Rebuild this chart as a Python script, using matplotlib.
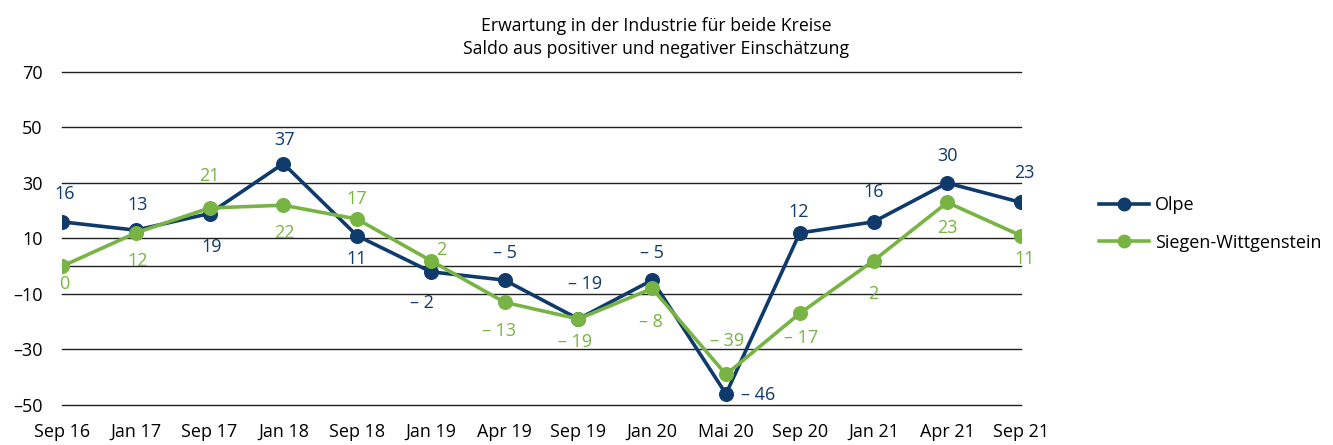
import matplotlib
matplotlib.use("Agg")
import matplotlib.pyplot as plt
from matplotlib.lines import Line2D

plt.rcParams['font.family'] = ['Open Sans', 'DejaVu Sans']

categories = ["Sep 16", "Jan 17", "Sep 17", "Jan 18", "Sep 18", "Jan 19", "Apr 19",
              "Sep 19", "Jan 20", "Mai 20", "Sep 20", "Jan 21", "Apr 21", "Sep 21"]
olpe = [16, 13, 19, 37, 11, -2, -5, -19, -5, -46, 12, 16, 30, 23]
siegen = [0, 12, 21, 22, 17, 2, -13, -19, -8, -39, -17, 2, 23, 11]
yticks = [70, 50, 30, 10, -10, -30, -50]

# label offsets of text centre relative to point, in pixels (dx, dy; +dy = up)
olpe_off = [(3, 28), (2, 25), (2, -33), (1, 24), (0, -23), (-9, -31), (0, 27),
            (7, 35), (0, 27), (32, -1), (-1, 21), (0, 30), (0, 27), (3, 29)]
sieg_off = [(2, -18), (2, -28), (0, 32), (1, -28), (0, 20), (10, 11), (-6, -29),
            (-3, -23), (-1, -34), (1, 33), (1, -25), (0, -33), (0, -26), (4, -23)]

navy = "#0f3a6c"
green = "#78b443"

fig = plt.figure(figsize=(13.33, 4.45), dpi=100)
ax = fig.add_axes([0.0465, 0.0899, 0.7195, 0.7483])
x = list(range(len(categories)))

for yv in yticks + [0]:
    ax.axhline(yv, color="#222222", lw=1.0, zorder=1, clip_on=False)

ax.plot(x, olpe, color=navy, lw=2.6, marker="o", ms=9.8, zorder=3, label="Olpe")
ax.plot(x, siegen, color=green, lw=2.6, marker="o", ms=9.8, zorder=4, label="Siegen-Wittgenstein")

def fmt(v):
    return f"– {abs(v)}" if v < 0 else f"{v}"

def place(vals, offs, color):
    for i, (v, (dx, dy)) in enumerate(zip(vals, offs)):
        ax.annotate(fmt(v), (i, v), xytext=(dx, dy), textcoords="offset pixels",
                    ha="center", va="center", color=color, fontsize=13,
                    zorder=6, annotation_clip=False)

place(olpe, olpe_off, navy)
place(siegen, sieg_off, green)

ax.set_xlim(0, 13)
ax.set_ylim(-50, 70)
ax.set_yticks(yticks)
ax.set_yticklabels([f"–{abs(t)}" if t < 0 else str(t) for t in yticks], fontsize=13)
ax.set_xticks(x)
ax.set_xticklabels(categories, fontsize=13)
ax.tick_params(length=0, pad=14, axis="y")
ax.tick_params(length=0, pad=13, axis="x")
for s in ax.spines.values():
    s.set_visible(False)
ax.patch.set_visible(False)

fig.text(0.492, 0.962, "Erwartung in der Industrie für beide Kreise\nSaldo aus positiver und negativer Einschätzung",
         ha="center", va="top", fontsize=12.7, linespacing=1.35)

handles = [Line2D([0], [0], color=navy, lw=2.6, marker="o", ms=9),
           Line2D([0], [0], color=green, lw=2.6, marker="o", ms=9)]
fig.legend(handles, ["Olpe", "Siegen-Wittgenstein"], loc="center left",
           bbox_to_anchor=(0.812, 0.497), frameon=False, fontsize=13,
           handlelength=2.8, labelspacing=1.1, handletextpad=0.3)

fig.savefig("out.png", dpi=100)
